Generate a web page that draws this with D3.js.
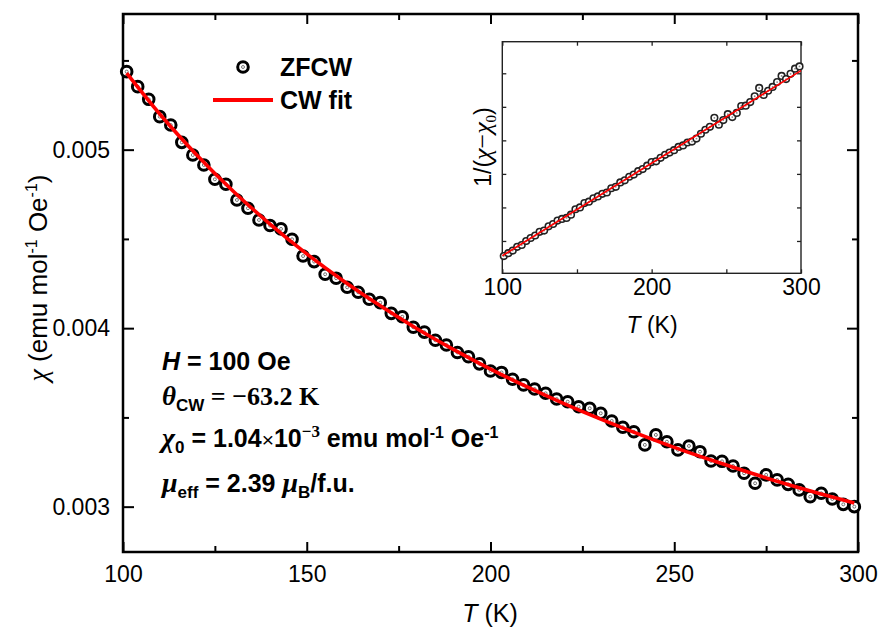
<!DOCTYPE html>
<html><head><meta charset="utf-8">
<script src="https://cdn.jsdelivr.net/npm/d3@7"></script>
<style>
html,body{margin:0;padding:0;background:#fff;}
svg{display:block;}
text{font-family:"Liberation Sans",Arial,sans-serif;fill:#000;}
.serif{font-family:"Liberation Serif","Times New Roman",serif;}
</style></head>
<body>
<svg id="chart" width="878" height="628"></svg>
<script>
// ---------- data ----------
const temps = [101,104,107,110,113,116,119,122,125,128,131,134,137,140,143,146,149,152,155,158,
  161,164,167,170,173,176,179,182,185,188,191,194,197,200,203,206,209,212,215,218,
  221,224,227,230,233,236,239,242,245,248,251,254,257,260,263,266,269,272,275,278,
  281,284,287,290,293,296,299];
const chiZFCW = [0.005437,0.005353,0.005282,0.005185,0.005138,0.005041,0.004970,0.004914,0.004834,0.004806,
  0.004718,0.004672,0.004606,0.004575,0.004556,0.004498,0.004404,0.004373,0.004302,0.004280,
  0.004229,0.004201,0.004162,0.004143,0.004083,0.004064,0.004005,0.003978,0.003932,0.003906,
  0.003864,0.003840,0.003800,0.003760,0.003752,0.003714,0.003682,0.003659,0.003635,0.003603,
  0.003588,0.003560,0.003551,0.003523,0.003480,0.003445,0.003420,0.003346,0.003402,0.003364,
  0.003318,0.003340,0.003308,0.003256,0.003254,0.003228,0.003187,0.003131,0.003178,0.003150,
  0.003125,0.003094,0.003056,0.003075,0.003043,0.003013,0.003000];
const fitTemps = [101,110,120,130,140,150,160,170,180,190,200,210,220,230,240,250,260,270,280,290,299];
const fitChi = [0.005429,0.005200,0.004972,0.004767,0.004583,0.004416,0.004264,0.004125,0.003997,0.003880,
  0.003771,0.003671,0.003577,0.003490,0.003409,0.003332,0.003261,0.003194,0.003130,0.003071,0.003020];
const chi0 = 0.00104;
const insetFitTemps = [100,300];
const insetFitVals = [228,504];
const xTicksMajor = [100,150,200,250,300];
const xTicksMinor = [125,175,225,275];
const yTicksMajor = [0.003,0.004,0.005];
const yTicksMinor = [0.0035,0.0045,0.0055];
const insetXTicks = [100,150,200,250,300];
const insetXLabels = [100,200,300];
const insetYTicks = [250,300,350,400,450,500];

// ---------- layout ----------
const svg = d3.select("#chart");
const L=123,R=858,T=14,B=552;
const x = d3.scaleLinear([100,300],[L,R]);
const y = d3.scaleLinear([0.002746,0.00576],[B,T]);

function ticks(g){ g.select(".domain").remove(); g.selectAll(".tick line").attr("stroke","#000").attr("stroke-width",2); }

// bottom
svg.append("g").attr("transform",`translate(0,${B})`)
  .call(d3.axisBottom(x).tickValues(xTicksMajor).tickSizeInner(-10).tickSizeOuter(0).tickPadding(14).tickFormat(d3.format("d")))
  .call(ticks).call(g=>g.selectAll("text").attr("font-size",23).attr("font-family","Liberation Sans"));
svg.append("g").attr("transform",`translate(0,${B})`)
  .call(d3.axisBottom(x).tickValues(xTicksMinor).tickSizeInner(-6).tickSizeOuter(0).tickFormat(""))
  .call(ticks);
// top
svg.append("g").attr("transform",`translate(0,${T})`)
  .call(d3.axisTop(x).tickValues(xTicksMajor).tickSizeInner(-10).tickSizeOuter(0).tickFormat(""))
  .call(ticks);
svg.append("g").attr("transform",`translate(0,${T})`)
  .call(d3.axisTop(x).tickValues(xTicksMinor).tickSizeInner(-6).tickSizeOuter(0).tickFormat(""))
  .call(ticks);
// left
svg.append("g").attr("transform",`translate(${L},0)`)
  .call(d3.axisLeft(y).tickValues(yTicksMajor).tickSizeInner(-11).tickSizeOuter(0).tickPadding(13).tickFormat(d3.format(".3f")))
  .call(ticks).call(g=>g.selectAll("text").attr("font-size",23).attr("font-family","Liberation Sans"));
svg.append("g").attr("transform",`translate(${L},0)`)
  .call(d3.axisLeft(y).tickValues(yTicksMinor).tickSizeInner(-6).tickSizeOuter(0).tickFormat(""))
  .call(ticks);
// right
svg.append("g").attr("transform",`translate(${R},0)`)
  .call(d3.axisRight(y).tickValues(yTicksMajor).tickSizeInner(-11).tickSizeOuter(0).tickFormat(""))
  .call(ticks);
svg.append("g").attr("transform",`translate(${R},0)`)
  .call(d3.axisRight(y).tickValues(yTicksMinor).tickSizeInner(-6).tickSizeOuter(0).tickFormat(""))
  .call(ticks);
// frame
svg.append("rect").attr("x",L).attr("y",T).attr("width",R-L).attr("height",B-T)
  .attr("fill","none").attr("stroke","#000").attr("stroke-width",2.5);

// markers
function marker(sel, r, sw){
  sel.append("circle").attr("r",r).attr("fill","#fff").attr("stroke","#000").attr("stroke-width",sw);
  sel.append("circle").attr("r",r*0.28).attr("fill","#fff").attr("stroke","#555").attr("stroke-width",0.8);
}
const pts = svg.append("g").selectAll("g").data(temps.map((t,i)=>[t,chiZFCW[i]])).join("g")
  .attr("transform",d=>`translate(${x(d[0])},${y(d[1])})`);
marker(pts,5.3,3);

// fit line
svg.append("path").datum(fitTemps.map((t,i)=>[t,fitChi[i]]))
  .attr("d",d3.line().x(d=>x(d[0])).y(d=>y(d[1])).curve(d3.curveMonotoneX))
  .attr("fill","none").attr("stroke","#ff0000").attr("stroke-width",3.6);

// legend
const lg = svg.append("g");
marker(lg.append("g").attr("transform","translate(243,67)"),5.3,3);
lg.append("line").attr("x1",213).attr("x2",273).attr("y1",100).attr("y2",100).attr("stroke","#ff0000").attr("stroke-width",4);
lg.append("text").attr("x",280).attr("y",76).attr("font-size",25).attr("font-weight","bold").text("ZFCW");
lg.append("text").attr("x",280).attr("y",109).attr("font-size",25).attr("font-weight","bold").text("CW fit");

// axis titles
const xt = svg.append("text").attr("x",490).attr("y",622).attr("text-anchor","middle").attr("font-size",25);
xt.append("tspan").attr("font-style","italic").text("T");
xt.append("tspan").text(" (K)");
const yt = svg.append("text").attr("transform","translate(47,278) rotate(-90)").attr("text-anchor","middle").attr("font-size",26);
yt.append("tspan").attr("class","serif").attr("font-style","italic").attr("font-size",28).text("χ");
yt.append("tspan").text(" (emu mol");
yt.append("tspan").attr("font-size",16).attr("dy",-10).text("-1");
yt.append("tspan").attr("dy",10).text(" Oe");
yt.append("tspan").attr("font-size",16).attr("dy",-10).text("-1");
yt.append("tspan").attr("dy",10).text(")");

// annotations
const a1 = svg.append("text").attr("x",162).attr("y",370).attr("font-size",25).attr("font-weight","bold");
a1.append("tspan").attr("font-style","italic").text("H");
a1.append("tspan").text(" = 100 Oe");
const a2 = svg.append("text").attr("x",162).attr("y",405).attr("font-size",25).attr("font-weight","bold");
a2.append("tspan").attr("class","serif").attr("font-style","italic").attr("font-size",27).text("θ");
a2.append("tspan").attr("font-size",17).attr("dy",6).text("CW");
a2.append("tspan").attr("class","serif").attr("dy",-6).attr("font-size",26).text(" = −63.2 K");
const a3 = svg.append("text").attr("x",162).attr("y",447).attr("font-size",25).attr("font-weight","bold");
a3.append("tspan").attr("class","serif").attr("font-style","italic").attr("font-size",28).text("χ");
a3.append("tspan").attr("font-size",17).attr("dy",6).text("0");
a3.append("tspan").attr("dy",-6).text(" = 1.04");
a3.append("tspan").attr("font-weight","normal").attr("font-size",21).text("×");
a3.append("tspan").text("10");
a3.append("tspan").attr("class","serif").attr("font-size",17).attr("dy",-10).text("−3");
a3.append("tspan").attr("dy",10).text(" emu mol");
a3.append("tspan").attr("font-size",16).attr("dy",-9).text("-1");
a3.append("tspan").attr("dy",9).text(" Oe");
a3.append("tspan").attr("font-size",16).attr("dy",-9).text("-1");
const a4 = svg.append("text").attr("x",162).attr("y",492).attr("font-size",25).attr("font-weight","bold");
a4.append("tspan").attr("class","serif").attr("font-style","italic").attr("font-size",28).text("μ");
a4.append("tspan").attr("font-size",17).attr("dy",6).text("eff");
a4.append("tspan").attr("dy",-6).text(" = 2.39 ");
a4.append("tspan").attr("class","serif").attr("font-style","italic").attr("font-size",28).text("μ");
a4.append("tspan").attr("font-size",17).attr("dy",6).text("B");
a4.append("tspan").attr("dy",-6).text("/f.u.");

// ---------- inset ----------
const iL=502.3,iR=801,iT=41.7,iB=273.3;
const xi = d3.scaleLinear([100,300],[iL,iR]);
const yi = d3.scaleLinear([201.8,547.1],[iB,iT]);
function iticks(g){ g.select(".domain").remove(); g.selectAll(".tick line").attr("stroke","#222").attr("stroke-width",1.3); }
svg.append("g").attr("transform",`translate(0,${iB})`)
  .call(d3.axisBottom(xi).tickValues(insetXTicks).tickSizeInner(-4).tickSizeOuter(0).tickPadding(5)
    .tickFormat(d=>insetXLabels.includes(d)?d3.format("d")(d):""))
  .call(iticks).call(g=>g.selectAll("text").attr("font-size",23).attr("font-family","Liberation Sans"));
svg.append("g").attr("transform",`translate(0,${iT})`)
  .call(d3.axisTop(xi).tickValues(insetXTicks).tickSizeInner(-4).tickSizeOuter(0).tickFormat("")).call(iticks);
svg.append("g").attr("transform",`translate(${iL},0)`)
  .call(d3.axisLeft(yi).tickValues(insetYTicks).tickSizeInner(-4).tickSizeOuter(0).tickFormat("")).call(iticks);
svg.append("g").attr("transform",`translate(${iR},0)`)
  .call(d3.axisRight(yi).tickValues(insetYTicks).tickSizeInner(-4).tickSizeOuter(0).tickFormat("")).call(iticks);
svg.append("rect").attr("x",iL).attr("y",iT).attr("width",iR-iL).attr("height",iB-iT)
  .attr("fill","none").attr("stroke","#222").attr("stroke-width",1.4);

const ipts = svg.append("g").selectAll("g").data(temps.map((t,i)=>[t,1/(chiZFCW[i]-chi0)])).join("g")
  .attr("transform",d=>`translate(${xi(d[0])},${yi(d[1])})`);
ipts.append("circle").attr("r",3.3).attr("fill","#fff").attr("stroke","#222").attr("stroke-width",1.6);
ipts.append("circle").attr("r",0.9).attr("fill","#888");
svg.append("path").datum(insetFitTemps.map((t,i)=>[t,insetFitVals[i]]))
  .attr("d",d3.line().x(d=>xi(d[0])).y(d=>yi(d[1])))
  .attr("fill","none").attr("stroke","#ff0000").attr("stroke-width",1.7);

const ixt = svg.append("text").attr("x",652).attr("y",333).attr("text-anchor","middle").attr("font-size",23);
ixt.append("tspan").attr("font-style","italic").text("T");
ixt.append("tspan").text(" (K)");
const iyt = svg.append("text").attr("transform","translate(491,147) rotate(-90)").attr("text-anchor","middle").attr("font-size",23);
iyt.append("tspan").text("1/(");
iyt.append("tspan").attr("class","serif").attr("font-style","italic").attr("font-size",26).text("χ");
iyt.append("tspan").attr("class","serif").attr("font-size",26).text("−");
iyt.append("tspan").attr("class","serif").attr("font-style","italic").attr("font-size",26).text("χ");
iyt.append("tspan").attr("class","serif").attr("font-size",15).attr("dy",5).text("0");
iyt.append("tspan").attr("dy",-5).text(")");
</script>
</body></html>
